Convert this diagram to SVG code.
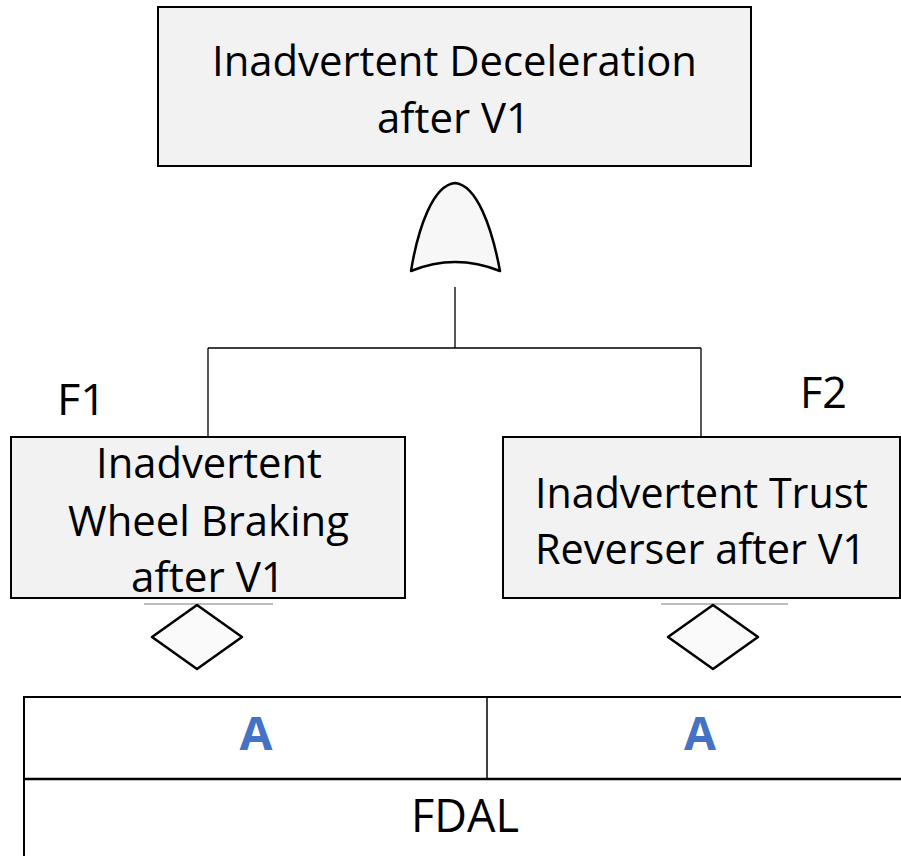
<svg xmlns="http://www.w3.org/2000/svg" width="901" height="856" viewBox="0 0 901 856">
<style>
.box{fill:#f2f2f2;stroke:#000;stroke-width:2}
.t{font-family:"Open Sans","Liberation Sans",sans-serif;font-size:42px;fill:#000;text-anchor:middle}
.lbl{font-family:"Open Sans","Liberation Sans",sans-serif;font-size:44px;fill:#000}
.a{font-family:"Open Sans","Liberation Sans",sans-serif;font-size:46px;font-weight:bold;fill:#4472c4;text-anchor:middle}
.conn{stroke:#000;stroke-width:1.3;fill:none}
.dia{fill:#fafafa;stroke:#000;stroke-width:2.5;stroke-linejoin:round}
.grey{stroke:#bdbdbd;stroke-width:2}
.tbl{stroke:#000;stroke-width:2;fill:#fff}
</style>
<g id="top">
<rect class="box" x="158" y="7" width="593" height="159"/>
<text class="t" x="454.5" y="76" textLength="485" lengthAdjust="spacingAndGlyphs">Inadvertent Deceleration</text>
<text class="t" x="453.5" y="133" textLength="153" lengthAdjust="spacingAndGlyphs">after V1</text>
</g>
<g id="gate">
<path d="M411,271 C418,228 433,185 455,183 C477,185 492,228 500,271 Q455,253 411,271 Z" fill="#f7f7f7" stroke="#000" stroke-width="2.5" stroke-linejoin="round"/>
</g>
<g id="connectors">
<path class="conn" d="M455,287 V348 M208,348 H701 M208,348 V437 M701,348 V437"/>
</g>
<g id="F1">
<text class="lbl" x="57" y="415" textLength="49" lengthAdjust="spacingAndGlyphs">F1</text>
<rect class="box" x="11" y="437" width="394" height="161"/>
<text class="t" x="209" y="478" textLength="226" lengthAdjust="spacingAndGlyphs">Inadvertent</text>
<text class="t" x="208.5" y="536" textLength="281" lengthAdjust="spacingAndGlyphs">Wheel Braking</text>
<text class="t" x="208" y="592" textLength="154" lengthAdjust="spacingAndGlyphs">after V1</text>
<line class="grey" x1="144" y1="604" x2="273" y2="604"/>
<path class="dia" d="M197,605 L242,637 L197,669 L152,637 Z"/>
</g>
<g id="F2">
<text class="lbl" x="800" y="408" textLength="47" lengthAdjust="spacingAndGlyphs">F2</text>
<rect class="box" x="503" y="437" width="397" height="161"/>
<text class="t" x="701.5" y="508" textLength="333" lengthAdjust="spacingAndGlyphs">Inadvertent Trust</text>
<text class="t" x="700.5" y="564" textLength="331" lengthAdjust="spacingAndGlyphs">Reverser after V1</text>
<line class="grey" x1="661" y1="604" x2="788" y2="604"/>
<path class="dia" d="M713,605 L758,637 L713,669 L668,637 Z"/>
</g>
<g id="fdal">
<rect class="tbl" x="24" y="697" width="890" height="170"/>
<line x1="24" y1="779" x2="901" y2="779" stroke="#000" stroke-width="2.5"/>
<line x1="487" y1="697" x2="487" y2="779" stroke="#000" stroke-width="1.5"/>
<text class="a" x="256" y="750" textLength="33" lengthAdjust="spacingAndGlyphs">A</text>
<text class="a" x="700" y="750" textLength="32" lengthAdjust="spacingAndGlyphs">A</text>
<text class="t" x="465" y="832" style="font-size:46px" textLength="108" lengthAdjust="spacingAndGlyphs">FDAL</text>
</g>
</svg>
